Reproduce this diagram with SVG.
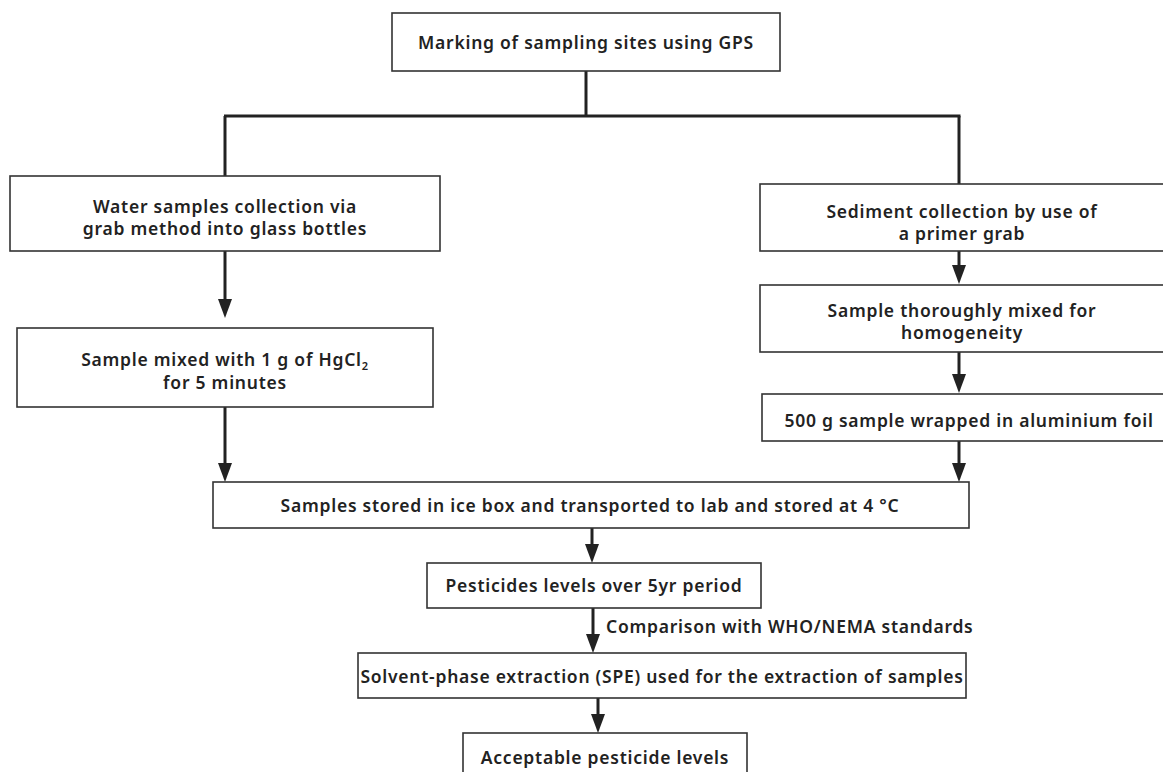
<svg xmlns="http://www.w3.org/2000/svg" width="1163" height="772" viewBox="0 0 1163 772">
<style>
.box{fill:#fff;stroke:#333;stroke-width:1.6}
.t{font-family:"Noto Sans","Liberation Sans",sans-serif;font-weight:600;font-size:17.5px;letter-spacing:0.75px;fill:#222;text-anchor:middle;dominant-baseline:central}
.s{text-anchor:start}
.l{fill:none;stroke:#222;stroke-width:3}
.h{fill:#222}
</style>
<rect width="1163" height="772" fill="#fff"/>
<g id="connectors">
<path class="l" d="M586,71 V116"/>
<path class="l" d="M224,116 H960.5"/>
<path class="l" d="M225,116 V176"/>
<path class="l" d="M959,116 V184"/>
<path class="l" d="M225,251 V299"/>
<path class="h" d="M218,299 L232,299 L225,318 Z"/>
<path class="l" d="M959,251 V265"/>
<path class="h" d="M952,265 L966,265 L959,284 Z"/>
<path class="l" d="M959,352 V374"/>
<path class="h" d="M952,374 L966,374 L959,393 Z"/>
<path class="l" d="M225,407 V463"/>
<path class="h" d="M218,463 L232,463 L225,482 Z"/>
<path class="l" d="M959,441 V463"/>
<path class="h" d="M952,463 L966,463 L959,482 Z"/>
<path class="l" d="M592,528 V544"/>
<path class="h" d="M585,544 L599,544 L592,563 Z"/>
<path class="l" d="M593,608 V634"/>
<path class="h" d="M586,634 L600,634 L593,653 Z"/>
<text class="t s" x="606" y="626">Comparison with WHO/NEMA standards</text>
<path class="l" d="M598,698 V714"/>
<path class="h" d="M591,714 L605,714 L598,733 Z"/>
</g>
<g id="n1"><rect class="box" x="392" y="13" width="388" height="58"/><text class="t" x="586" y="42">Marking of sampling sites using GPS</text></g>
<g id="n2"><rect class="box" x="10" y="176" width="430" height="75"/><text class="t" x="225" y="206">Water samples collection via</text><text class="t" x="225" y="228">grab method into glass bottles</text></g>
<g id="n3"><rect class="box" x="17" y="328" width="416" height="79"/><text class="t" x="225" y="359">Sample mixed with 1 g of HgCl<tspan font-size="11" dy="6">2</tspan></text><text class="t" x="225" y="382">for 5 minutes</text></g>
<g id="n4"><rect class="box" x="760" y="184" width="410" height="67"/><text class="t" x="962" y="211">Sediment collection by use of</text><text class="t" x="962" y="233">a primer grab</text></g>
<g id="n5"><rect class="box" x="760" y="285" width="410" height="67"/><text class="t" x="962" y="310">Sample thoroughly mixed for</text><text class="t" x="962" y="332">homogeneity</text></g>
<g id="n6"><rect class="box" x="762" y="394" width="410" height="47"/><text class="t" x="969" y="420">500 g sample wrapped in aluminium foil</text></g>
<g id="n7"><rect class="box" x="213" y="482" width="756" height="46"/><text class="t" x="590" y="505">Samples stored in ice box and transported to lab and stored at 4 °C</text></g>
<g id="n8"><rect class="box" x="427" y="563" width="334" height="45"/><text class="t" x="594" y="585">Pesticides levels over 5yr period</text></g>
<g id="n9"><rect class="box" x="358" y="653" width="608" height="45"/><text class="t" x="662" y="676">Solvent-phase extraction (SPE) used for the extraction of samples</text></g>
<g id="n10"><rect class="box" x="463" y="733" width="284" height="60"/><text class="t" x="605" y="757">Acceptable pesticide levels</text></g>
</svg>
